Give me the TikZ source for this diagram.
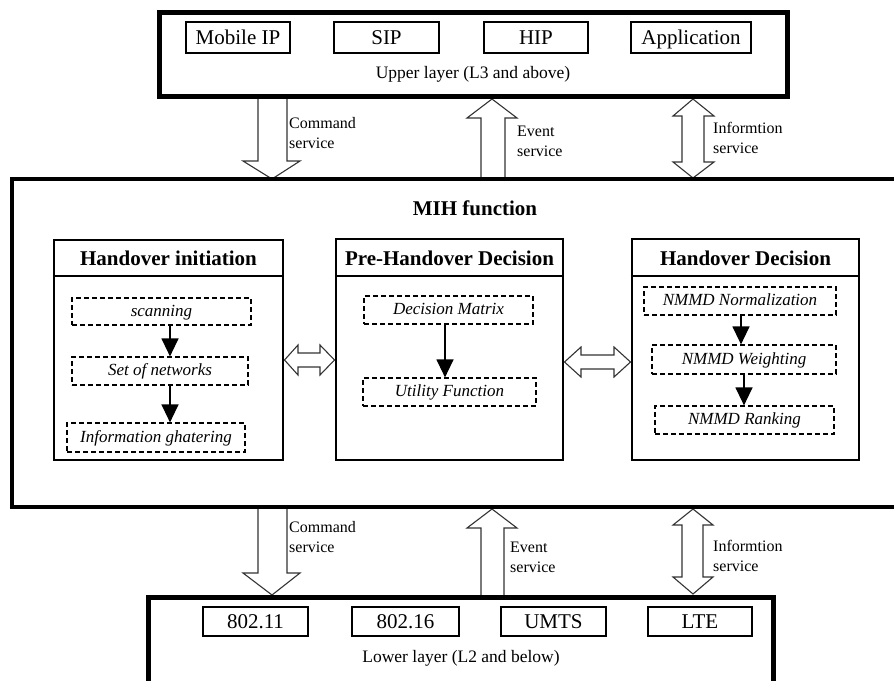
\documentclass[tikz,border=0pt]{standalone}
\usepackage{fontspec}
\setmainfont{Liberation Serif}
\usetikzlibrary{arrows.meta}
\begin{document}
\begin{tikzpicture}[x=1pt,y=-1pt,
  layerbox/.style={draw, line width=5pt, inner sep=0pt},
  mihbox/.style={draw, line width=4.5pt, inner sep=0pt},
  protobox/.style={draw, line width=1.3pt, inner sep=0pt, text height=14pt, text depth=0pt, font=\fontsize{21}{25}\selectfont},
  layerlbl/.style={inner sep=0pt, font=\fontsize{17.5}{20}\selectfont},
  panel/.style={draw, line width=2.6pt, inner sep=0pt},
  paneltitle/.style={inner sep=0pt, text height=14pt, text depth=0pt, font=\fontsize{21}{25}\selectfont\bfseries},
  stepbox/.style={draw, line width=1.2pt, dash pattern=on 5pt off 3pt, inner sep=0pt, text height=10pt, text depth=1pt, font=\fontsize{17}{20}\selectfont\itshape},
  flow/.style={line width=1.3pt, -{Triangle[width=17pt,length=18pt]}},
  blk/.style={draw=black!80, fill=white, line width=1.1pt, line join=miter},
  svc/.style={inner sep=0pt, anchor=west, align=left, font=\fontsize{16}{20}\selectfont}
]
\useasboundingbox (0,0) rectangle (894,680);
\clip (0,0) rectangle (894,680);

% ---------- block arrows (drawn first) ----------
% top: command (down)
\draw[blk] (258,97) -- (258,161) -- (243,161) -- (272,179) -- (300,161) -- (287,161) -- (287,97);
% top: event (up)
\draw[blk] (481,179) -- (481,118) -- (467,118) -- (492,99) -- (517,118) -- (505,118) -- (505,179);
% top: information (double)
\draw[blk] (693,99) -- (714,116) -- (704,116) -- (704,162) -- (714,162) -- (693,178) -- (673,162) -- (682,162) -- (682,116) -- (673,116) -- cycle;
% bottom: command (down)
\draw[blk] (258,507) -- (258,573) -- (243,573) -- (272,595) -- (300,573) -- (287,573) -- (287,507);
% bottom: event (up)
\draw[blk] (481,595) -- (481,528) -- (467,528) -- (492,509) -- (517,528) -- (504,528) -- (504,595);
% bottom: information (double)
\draw[blk] (693,509) -- (713,525) -- (703,525) -- (703,577) -- (713,577) -- (693,594) -- (673,577) -- (682,577) -- (682,525) -- (673,525) -- cycle;

% ---------- upper layer ----------
\node[layerbox, minimum width=628pt, minimum height=84pt] (upper) at (473.5,54.5) {};
\node[protobox, minimum width=104pt, minimum height=31pt] (mip) at (238,37.5) {Mobile IP};
\node[protobox, minimum width=105pt, minimum height=31pt] (sip) at (386.5,37.5) {SIP};
\node[protobox, minimum width=104pt, minimum height=31pt] (hip) at (536,37.5) {HIP};
\node[protobox, minimum width=120pt, minimum height=31pt] (app) at (691,37.5) {Application};
\node[layerlbl] (upperlbl) at (473,74) {Upper layer (L3 and above)};

% ---------- service labels ----------
\node[svc] (cmdtop) at (289,133) {Command\\service};
\node[svc] (evttop) at (517,141.5) {Event\\service};
\node[svc] (inftop) at (713,137.5) {Informtion\\service};
\node[svc] (cmdbot) at (289,537.5) {Command\\service};
\node[svc] (evtbot) at (510,557) {Event\\service};
\node[svc] (infbot) at (713,555.5) {Informtion\\service};

% ---------- MIH function ----------
\node[mihbox, minimum width=898pt, minimum height=328pt] (mih) at (461,343) {};
\node[paneltitle] (mihtitle) at (475,208) {MIH function};

% panels
\node[panel, minimum width=229pt, minimum height=220pt] (lbox) at (168.5,350) {};
\draw[line width=2.6pt] (lbox.west |- 0,276) -- (lbox.east |- 0,276);
\node[paneltitle] (ltitle) at (168.5,258) {Handover initiation};

\node[panel, minimum width=227pt, minimum height=221pt] (mbox) at (449.5,349.5) {};
\draw[line width=2.6pt] (mbox.west |- 0,276) -- (mbox.east |- 0,276);
\node[paneltitle] (mtitle) at (449.5,258) {Pre-Handover Decision};

\node[panel, minimum width=227pt, minimum height=221pt] (rbox) at (745.5,349.5) {};
\draw[line width=2.6pt] (rbox.west |- 0,276) -- (rbox.east |- 0,276);
\node[paneltitle] (rtitle) at (745.5,258) {Handover Decision};

% steps: left
\node[stepbox, minimum width=179pt, minimum height=27pt] (scan) at (161.5,311.5) {scanning};
\node[stepbox, minimum width=176pt, minimum height=28pt] (setn) at (160,371) {Set of networks};
\node[stepbox, minimum width=178pt, minimum height=29pt] (infog) at (156,437.5) {Information ghatering};
\draw[flow] (scan.south -| 170,0) -- (setn.north -| 170,0);
\draw[flow] (setn.south -| 170,0) -- (infog.north -| 170,0);

% steps: middle
\node[stepbox, minimum width=169pt, minimum height=28pt] (dmat) at (448.5,310) {Decision Matrix};
\node[stepbox, minimum width=173pt, minimum height=28pt] (ufun) at (449.5,392) {Utility Function};
\draw[flow] (dmat.south -| 445,0) -- (ufun.north -| 445,0);

% steps: right
\node[stepbox, minimum width=192pt, minimum height=28pt] (nnorm) at (740,301) {NMMD Normalization};
\node[stepbox, minimum width=184pt, minimum height=29pt] (nweight) at (744,359.5) {NMMD Weighting};
\node[stepbox, minimum width=179pt, minimum height=28pt] (nrank) at (744.5,420) {NMMD Ranking};
\draw[flow] (nnorm.south -| 741,0) -- (nweight.north -| 741,0);
\draw[flow] (nweight.south -| 744,0) -- (nrank.north -| 744,0);

% horizontal double arrows between panels
\draw[blk] (284.5,360) -- (298,345) -- (298,353) -- (320,353) -- (320,345) -- (334.5,360) -- (320,375) -- (320,367) -- (298,367) -- (298,375) -- cycle;
\draw[blk] (564.5,362) -- (581,347) -- (581,355) -- (614,355) -- (614,347) -- (630.5,362) -- (614,377) -- (614,369) -- (581,369) -- (581,377) -- cycle;

% ---------- lower layer ----------
\node[layerbox, minimum width=625pt, minimum height=103pt] (lower) at (461,648.5) {};
\node[protobox, minimum width=105pt, minimum height=29pt] (w11) at (255.5,621.5) {802.11};
\node[protobox, minimum width=107pt, minimum height=29pt] (w16) at (405.5,621.5) {802.16};
\node[protobox, minimum width=105pt, minimum height=29pt] (umts) at (553.5,621.5) {UMTS};
\node[protobox, minimum width=104pt, minimum height=29pt] (lte) at (700,621.5) {LTE};
\node[layerlbl] (lowerlbl) at (461,658) {Lower layer (L2 and below)};
\end{tikzpicture}
\end{document}
